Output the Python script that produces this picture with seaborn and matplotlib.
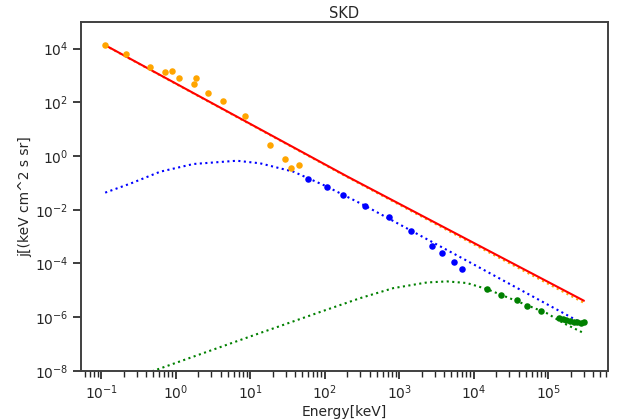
import numpy as np
import pandas as pd
import matplotlib
matplotlib.use("Agg")
import matplotlib.pyplot as plt
import seaborn as sns
from matplotlib.ticker import NullLocator

# measured spectra (keV, flux)
low_E = [0.111, 0.215, 0.45, 0.72, 0.90, 1.12, 1.77, 1.85, 2.75, 4.34, 8.4,
         18.2, 29.2, 35.2, 44.5]
low_j = [1.38e4, 6.2e3, 2.0e3, 1.3e3, 1.44e3, 8.1e2, 4.7e2, 8.4e2, 2.3e2, 1.1e2, 31.6,
         2.63, 0.79, 0.35, 0.45]

mid_E = [59.5, 106, 175, 350, 741, 1462, 2750, 3740, 5360, 7010]
mid_j = [0.144, 0.0705, 0.0365, 0.0142, 5.4e-3, 1.58e-3, 4.5e-4, 2.48e-4, 1.15e-4, 6.3e-5]

high_E = [1.52e4, 2.34e4, 3.83e4, 5.23e4, 7.9e4, 1.41e5, 1.57e5, 1.76e5, 1.97e5,
          2.19e5, 2.47e5, 2.74e5, 3.04e5]
high_j = [1.11e-5, 6.8e-6, 4.2e-6, 2.7e-6, 1.69e-6, 8.9e-7, 8.2e-7, 7.6e-7, 7.2e-7,
          6.8e-7, 6.6e-7, 6.2e-7, 6.4e-7]

# model curves
fit_E = [0.111, 200, 3.02e5]
fit_j = [1.38e4, 0.174, 4.07e-6]

sum_E = [0.111, 200, 3.02e5]
sum_j = [1.35e4, 0.165, 3.4e-6]

blue_E = [0.113, 0.251, 0.619, 1.73, 6.62, 13.6, 38.1, 100, 332, 8974, 2.98e5]
blue_j = [0.0433, 0.096, 0.261, 0.505, 0.668, 0.535, 0.261, 0.0794, 0.01507, 1.08e-4, 5.53e-7]

green_E = [0.113, 10, 100, 300, 832, 2344, 4365, 8128, 1.5e4, 9.55e4, 1.6e5, 2.98e5]
green_j = [2.3e-9, 1.9e-7, 1.78e-6, 5.1e-6, 1.2e-5, 1.95e-5, 2.14e-5, 1.86e-5, 1.11e-5,
           1.41e-6, 6.0e-7, 2.57e-7]

sns.set_style("ticks")
sns.set_context("notebook")
plt.rcParams['font.family'] = ['DejaVu Sans']
plt.rcParams.update({'xtick.labelsize': 10, 'ytick.labelsize': 10,
                     'axes.labelsize': 10, 'axes.titlesize': 10.5,
                     'xtick.major.pad': 3, 'ytick.major.pad': 3,
                     'axes.edgecolor': '0.25', 'axes.linewidth': 1.4})

fig, ax = plt.subplots(figsize=(6.25, 4.19), dpi=100)
fig.subplots_adjust(left=0.129, right=0.973, bottom=0.115, top=0.948)

curves = [(sum_E, sum_j, 'orange', ':'), (fit_E, fit_j, 'red', '-'),
          (blue_E, blue_j, 'blue', ':'), (green_E, green_j, 'green', ':')]
for E, j, c, ls in curves:
    sns.lineplot(x=E, y=j, ax=ax, color=c, linestyle=ls, lw=1.5,
                 sort=False, estimator=None)

for E, j, c in [(low_E, low_j, 'orange'), (mid_E, mid_j, 'blue'), (high_E, high_j, 'green')]:
    sns.scatterplot(x=E, y=j, ax=ax, color=c, s=22, linewidth=0, zorder=3)

ax.set(xscale='log', yscale='log')
ax.set_ylim(1e-8, 1e5)
ax.set_yticks([1e-8, 1e-6, 1e-4, 1e-2, 1e0, 1e2, 1e4])
ax.yaxis.set_minor_locator(NullLocator())
ax.set_xlabel('Energy[keV]', labelpad=2)
ax.set_ylabel('j[(keV cm^2 s sr]', labelpad=2)
ax.set_title('SKD', pad=3)

plt.savefig('out.png', dpi=100)
plt.close()
